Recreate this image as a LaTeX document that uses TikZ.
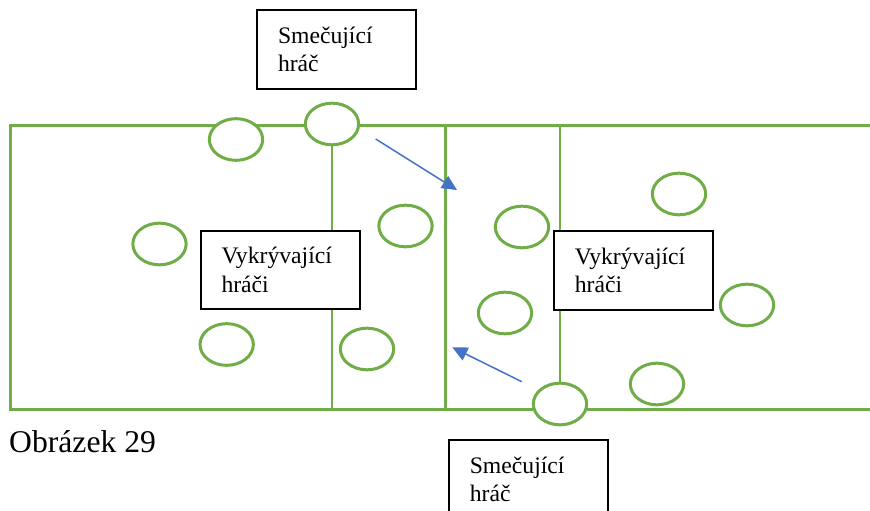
\documentclass[tikz,border=0pt]{standalone}
\usepackage{fontspec}
\setmainfont{Liberation Serif}
\usepackage{xcolor}
\usepackage{tkz-euclide}
\usetikzlibrary{arrows.meta,shapes.geometric}

\definecolor{verde}{HTML}{70AD47}
\definecolor{azul}{HTML}{4472C4}

\begin{document}
\begin{tikzpicture}[
    cancha/.style={draw=verde,line width=0.09cm},
    linea/.style={draw=verde,line width=0.045cm},
    jugador/.style={ellipse,draw=verde,line width=0.09cm,fill=white,
        minimum width=1.6cm,minimum height=1.25cm,inner sep=0pt},
    caja/.style={draw=black,line width=0.06cm,fill=white,text width=3.51cm,
        align=left,inner xsep=0.63cm,minimum height=2.35cm,
        font=\fontsize{20.2}{24.3}\selectfont},
    flecha/.style={draw=azul,line width=0.045cm,
        -{Triangle[length=0.45cm,width=0.42cm]}}]
        % Paso 1: Fija el tamaño de la figura
        \useasboundingbox (0,0) rectangle (26.1,15.3);

        % Paso 2: Define las esquinas de la cancha y la red
        \tkzDefPoint(0.3,11.52){A}     % arriba izquierda
        \tkzDefPoint(0.3,3.015){B}     % abajo izquierda
        \tkzDefPoint(26.4,3.015){C}    % abajo derecha
        \tkzDefPoint(26.4,11.52){D}    % arriba derecha
        \tkzDefPoint(13.365,11.52){R1} % red arriba
        \tkzDefPoint(13.365,3.015){R2} % red abajo

        % Paso 3: Dibuja la cancha (abierta a la derecha) y la red
        \draw[cancha] (D) -- (A) -- (B) -- (C);
        \draw[cancha] (R1) -- (R2);

        % Paso 4: Coloca los jugadores como elipses P1,...,P12
        \foreach \n/\x/\y in {1/7.08/11.115, 2/9.96/11.58, 3/12.165/8.52,
            4/4.785/7.98, 5/6.80/4.965, 6/11.01/4.83, 7/15.66/8.49,
            8/15.15/5.91, 9/20.37/9.48, 10/22.41/6.15, 11/19.71/3.78,
            12/16.80/3.18}
            { \node[jugador] (P\n) at (\x,\y) {}; }

        % Paso 5: Líneas delgadas de los jugadores que smečují
        \draw[linea] (P2.south) -- (P2.south |- B);
        \draw[linea] (P12.north) -- (P12.north |- A);

        % Paso 6: Cajas con los textos
        \node[caja] (S1) at (10.095,13.815) {Smečující\\hráč};
        \node[caja] (S2) at (15.85,0.924) {Smečující\\hráč};
        \node[caja] (V1) at (8.4,7.2) {Vykrývající\\hráči};
        \node[caja] (V2) at (19.0,7.185) {Vykrývající\\hráči};

        % Paso 7: Flechas azules del remate
        \tkzDefPoint(11.27,11.13){F1}
        \tkzDefPoint(13.71,9.6){F2}
        \tkzDefPoint(15.65,3.85){F3}
        \tkzDefPoint(13.57,4.88){F4}
        \draw[flecha] (F1) -- (F2);
        \draw[flecha] (F3) -- (F4);

        % Paso 8: Coloca la leyenda debajo de la figura
        \node[anchor=base west,inner sep=0pt,font=\fontsize{27}{32}\selectfont]
            (T) at (0.27,1.72) {Obrázek 29};
    \end{tikzpicture}
\end{document}
